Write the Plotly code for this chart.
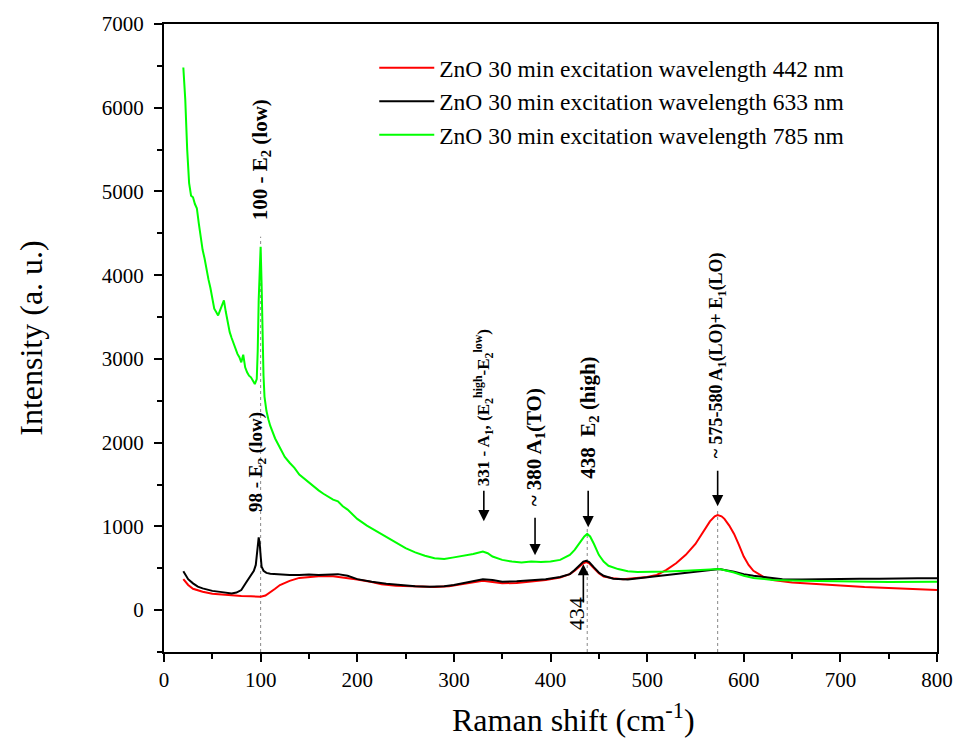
import plotly.graph_objects as go

# ---------------- data ----------------
x_red = [20, 25, 30, 40, 50, 60, 70, 80, 90, 95, 100, 105, 110, 115, 120, 130, 140, 150, 160, 175,
         190, 200, 215, 225, 240, 250, 265, 280, 295, 310, 320, 330, 340, 350, 365, 380, 395, 410,
         420, 425, 430, 434, 437, 440, 445, 450, 455, 465, 475, 490, 500, 510, 520, 530, 540, 550,
         555, 560, 565, 570, 573, 577, 580, 585, 590, 595, 600, 605, 610, 620, 630, 650, 675, 700,
         725, 750, 775, 800]
y_red = [370, 300, 255, 220, 195, 185, 175, 170, 165, 160, 160, 175, 210, 255, 300, 350, 385, 395,
         405, 405, 385, 365, 335, 310, 290, 285, 280, 275, 285, 315, 335, 350, 335, 320, 325, 340,
         360, 390, 430, 470, 520, 560, 575, 560, 500, 440, 400, 380, 370, 380, 395, 420, 480, 560,
         660, 790, 880, 980, 1060, 1120, 1135, 1120, 1090, 1010, 910, 780, 640, 540, 470, 400, 360,
         330, 310, 290, 275, 265, 255, 240]

x_black = [20, 25, 30, 35, 40, 50, 60, 65, 70, 75, 80, 85, 90, 93, 95, 96, 97, 98, 99, 100, 101, 103,
           106, 110, 120, 130, 140, 150, 160, 170, 180, 190, 200, 215, 230, 245, 260, 275, 290, 300,
           310, 320, 330, 340, 350, 365, 380, 395, 410, 420, 425, 430, 434, 437, 440, 445, 450, 455,
           465, 480, 500, 520, 540, 555, 565, 570, 575, 580, 590, 600, 610, 625, 640, 660, 680, 700,
           720, 740, 760, 780, 800]
y_black = [465, 370, 320, 280, 260, 230, 215, 205, 200, 210, 240, 330, 420, 470, 540, 620, 760, 870,
           800, 650, 520, 470, 445, 435, 425, 420, 420, 425, 420, 425, 430, 410, 370, 340, 315, 300,
           285, 280, 285, 300, 325, 350, 370, 360, 340, 345, 355, 370, 395, 430, 480, 540, 580, 590,
           575, 510, 450, 410, 375, 365, 390, 420, 445, 460, 470, 480, 490, 480, 460, 430, 410, 390,
           370, 365, 370, 370, 375, 375, 380, 380, 380]

x_green = [20, 22, 24, 26, 28, 30, 32, 34, 36, 38, 40, 42, 44, 46, 48, 50, 52, 54, 56, 58, 60, 62, 64,
           66, 68, 70, 72, 74, 76, 78, 80, 82, 84, 86, 88, 90, 92, 94, 96, 97, 98, 99, 100, 101, 102,
           103, 104, 106, 108, 110, 115, 120, 125, 130, 135, 140, 145, 150, 155, 160, 165, 170, 175,
           180, 185, 190, 195, 200, 210, 220, 230, 240, 250, 260, 270, 280, 290, 300, 310, 320, 330,
           335, 340, 350, 360, 370, 380, 390, 400, 410, 420, 425, 430, 435, 438, 441, 445, 450, 455,
           460, 470, 480, 490, 500, 520, 540, 560, 575, 590, 600, 610, 630, 660, 700, 750, 800]
y_green = [6480, 6100, 5500, 5100, 4950, 4930, 4850, 4800, 4620, 4450, 4300, 4200, 4050, 3950, 3850,
           3720, 3600, 3560, 3520, 3580, 3650, 3700, 3560, 3430, 3320, 3250, 3180, 3120, 3060, 3020,
           2960, 3050, 2900, 2840, 2800, 2780, 2730, 2700, 2760, 3100, 3700, 4200, 4340, 3900, 3250,
           2800, 2550, 2380, 2280, 2200, 2050, 1930, 1830, 1760, 1700, 1620, 1570, 1520, 1470, 1430,
           1390, 1350, 1320, 1300, 1240, 1200, 1140, 1090, 1010, 940, 870, 800, 740, 690, 650, 620,
           610, 630, 650, 670, 700, 680, 640, 600, 580, 570, 580, 575, 580, 600, 660, 720, 800, 880,
           910, 880, 790, 660, 580, 530, 490, 465, 455, 455, 460, 470, 480, 490, 450, 410, 385, 360,
           350, 340, 335, 340]

series_names = ["ZnO 30 min excitation wavelength 442 nm",
                "ZnO 30 min excitation wavelength 633 nm",
                "ZnO 30 min excitation wavelength 785 nm"]
series_colors = ["#ff0000", "#000000", "#00ff00"]

x_ticks = [0, 100, 200, 300, 400, 500, 600, 700, 800]
y_ticks = [0, 1000, 2000, 3000, 4000, 5000, 6000, 7000]

# peak guide lines: (x, top y)
guide_x = [100, 438, 573]
guide_top = [4460, 970, 1200]

# labels: text, x, y (text centre), arrow head y, arrow tail y, font size
labels = [
    ("100 - E<sub>2</sub> (low)", 100, 5380, None, None, 21),
    ("98 - E<sub>2</sub> (low)", 97, 1765, None, None, 19),
    ("331 - A<sub>1</sub>, (E<sub>2</sub><sup>high</sup>-E<sub>2</sub><sup>low</sup>)", 331, 2420, 1062, 1444, 17),
    ("~ 380 A<sub>1</sub>(TO)", 384, 1945, 656, 1121, 21),
    ("438  E<sub>2</sub> (high)", 439, 2300, 990, 1444, 21),
    ("~ 575-580 A<sub>1</sub>(LO)+ E<sub>1</sub>(LO)", 573, 3040, 1240, 1682, 18),
]
label_434 = ("434", 426.5, -48)
arrow_434 = (434, 549, 72)

FONT = "Liberation Serif, Times New Roman, serif"

fig = go.Figure()
for xs, ys, name, col in zip([x_red, x_black, x_green], [y_red, y_black, y_green], series_names, series_colors):
    fig.add_trace(go.Scatter(x=xs, y=ys, mode="lines", name=name,
                             line=dict(color=col, width=2)))

shapes = []
for gx, gt in zip(guide_x, guide_top):
    shapes.append(dict(type="line", xref="x", yref="y", x0=gx, x1=gx, y0=-500, y1=gt,
                       line=dict(color="#888888", width=1, dash="dot"), layer="below"))

annotations = []
for text, lx, ly, ahead, atail, fs in labels:
    annotations.append(dict(x=lx, y=ly, xref="x", yref="y", text="<b>" + text + "</b>", textangle=-90,
                            showarrow=False, font=dict(family=FONT, size=fs, color="black")))
    if ahead is not None:
        annotations.append(dict(x=lx, y=ahead, ax=lx, ay=atail, xref="x", yref="y", axref="x", ayref="y",
                                text="", showarrow=True, arrowhead=2, arrowsize=1.4, arrowwidth=1.6,
                                arrowcolor="black"))
annotations.append(dict(x=label_434[1], y=label_434[2], xref="x", yref="y", text=label_434[0], textangle=-90,
                        showarrow=False, font=dict(family=FONT, size=22, color="black")))
annotations.append(dict(x=arrow_434[0], y=arrow_434[1], ax=arrow_434[0], ay=arrow_434[2], xref="x", yref="y",
                        axref="x", ayref="y", text="", showarrow=True, arrowhead=2, arrowsize=1.4,
                        arrowwidth=1.6, arrowcolor="black"))
# x-axis title (placed slightly right of centre as in the reference)
annotations.append(dict(x=0.53, y=-0.105, xref="paper", yref="paper", xanchor="center", yanchor="middle",
                        text="Raman shift (cm<sup>-1</sup>)", showarrow=False,
                        font=dict(family=FONT, size=32, color="black")))

axis_common = dict(showgrid=False, zeroline=False, showline=True, linecolor="black", linewidth=2,
                   mirror=True, ticks="outside", ticklen=8, tickwidth=2, tickcolor="black",
                   tickfont=dict(family=FONT, size=21, color="black"), automargin=False)

fig.update_layout(
    width=958, height=749,
    margin=dict(l=164, r=21, t=24, b=97),
    paper_bgcolor="white", plot_bgcolor="white",
    font=dict(family=FONT, color="black"),
    xaxis=dict(range=[0, 800], tickvals=x_ticks,
               minor=dict(ticks="outside", ticklen=5, tickwidth=2, tickcolor="black", dtick=50, tick0=0),
               **axis_common),
    yaxis=dict(range=[-500, 7000], tickvals=y_ticks, ticklabelstandoff=6,
               minor=dict(ticks="outside", ticklen=5, tickwidth=2, tickcolor="black", dtick=500, tick0=0),
               title=dict(text="Intensity (a. u.)", font=dict(family=FONT, size=32), standoff=50),
               **axis_common),
    legend=dict(x=0.272, y=0.965, xanchor="left", yanchor="top", bgcolor="rgba(0,0,0,0)",
                font=dict(family=FONT, size=23.5, color="black"), itemwidth=55, tracegroupgap=0),
    shapes=shapes, annotations=annotations, showlegend=True,
)

fig.write_html("out.html")
